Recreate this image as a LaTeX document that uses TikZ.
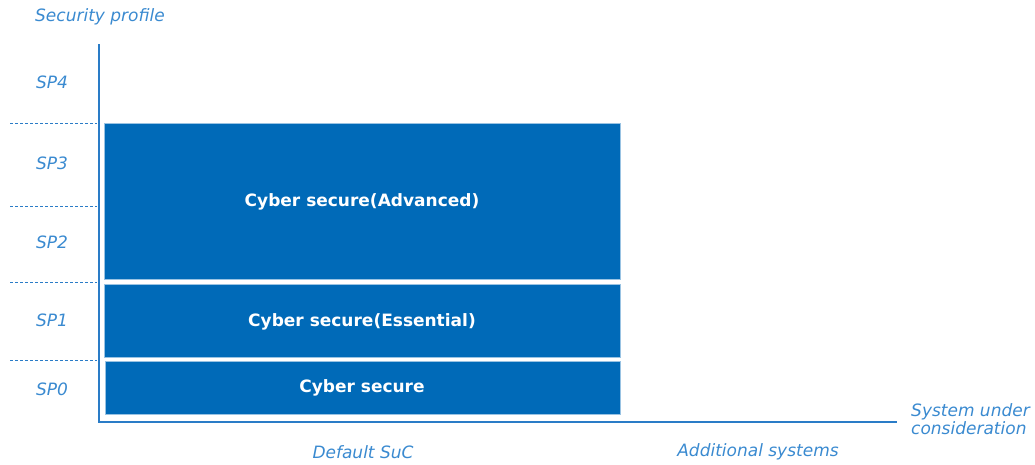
\documentclass[tikz,border=0pt]{standalone}
\usepackage{fontspec}
\setmainfont{DejaVu Sans}
\definecolor{boxblue}{HTML}{006AB8}
\definecolor{axisblue}{HTML}{2A7CC7}
\definecolor{labelblue}{HTML}{3A8AD0}
\begin{document}
\begin{tikzpicture}[x=1pt,y=-1pt,
  lbl/.style={text=labelblue,font=\itshape\fontsize{17}{18}\selectfont,inner sep=0pt},
  level/.style={fill=boxblue,draw=boxblue!40,line width=0.8pt,inner sep=0pt},
  leveltext/.style={text=white,font=\bfseries\fontsize{17}{18}\selectfont,inner sep=0pt},
  axis/.style={draw=axisblue,line width=2pt},
  guide/.style={draw=axisblue,densely dashed,line width=0.6pt}]
\useasboundingbox (0,0) rectangle (1035,464);
% axes
\coordinate (origin) at (99,421.5);
\coordinate (ytop) at (99,44);
\coordinate (xend) at (897,421.5);
\draw[axis] (ytop) -- (origin) -- (xend);
% level guides
\foreach \y/\n in {123/g4,206/g3,282/g2,360/g1}{
  \coordinate (\n a) at (10,\y);
  \coordinate (\n b) at (97,\y);
  \draw[guide] (\n a) -- (\n b);
}
% profile boxes
\node[level,minimum width=516pt,minimum height=156pt,anchor=north west] (adv) at (104,123) {};
\node[level,minimum width=516pt,minimum height=73pt,anchor=north west] (ess) at (104,284) {};
\node[level,minimum width=515pt,minimum height=53pt,anchor=north west] (base) at (105,361) {};
\node[leveltext] (advt) at (362,201.5) {Cyber secure(Advanced)};
\node[leveltext] (esst) at (362,321.5) {Cyber secure(Essential)};
\node[leveltext] (baset) at (362,387.5) {Cyber secure};
% axis labels
\node[lbl,anchor=west] (ytitle) at (35,17) {Security profile};
\node[lbl] (sp4) at (52,82) {SP4};
\node[lbl] (sp3) at (52,163) {SP3};
\node[lbl] (sp2) at (52,242) {SP2};
\node[lbl] (sp1) at (52,320) {SP1};
\node[lbl] (sp0) at (52,389) {SP0};
\node[lbl,anchor=west,align=left] (xtitle) at (911,419) {System under\\consideration};
\node[lbl] (def) at (363,452) {Default SuC};
\node[lbl] (add) at (758,452) {Additional systems};
\end{tikzpicture}
\end{document}
